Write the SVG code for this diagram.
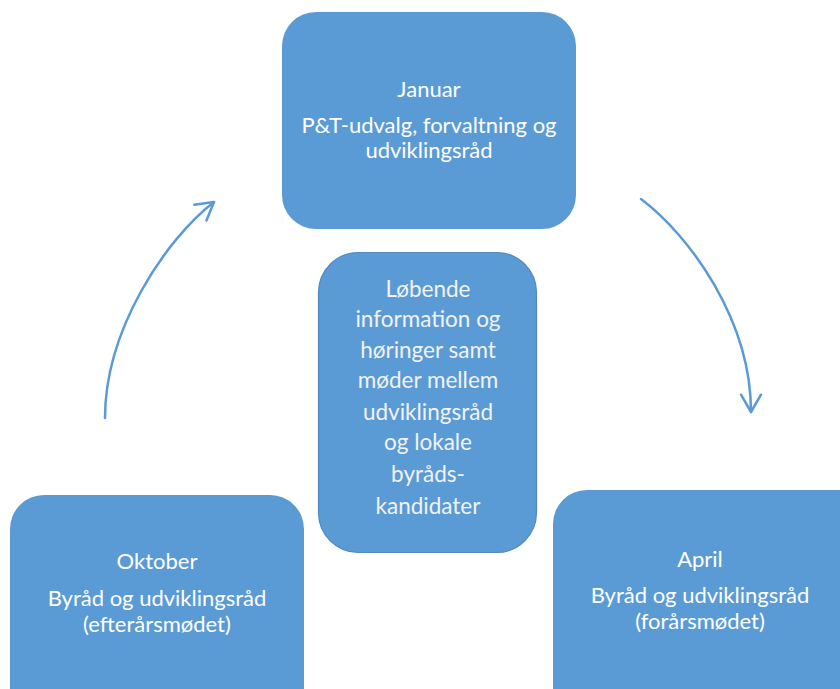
<svg xmlns="http://www.w3.org/2000/svg" width="840" height="689" viewBox="0 0 840 689">
<style>
.box{fill:#5B9BD5;}
.t{font-family:Lato,"Liberation Sans",sans-serif;font-size:22px;fill:#FFFFFF;text-anchor:middle;}
.c{font-family:Lato,"Liberation Sans",sans-serif;font-size:22.5px;fill:#F2F2F2;text-anchor:middle;}
.arc{fill:none;stroke:#5B9BD5;stroke-width:2.5;stroke-linecap:round;}
</style>
<defs>
<marker id="ah" markerUnits="userSpaceOnUse" viewBox="-2 -2 22 24" refX="17.3" refY="10" markerWidth="22" markerHeight="24" orient="auto">
<path d="M0,0 L17.3,10 L0,20" fill="none" stroke="#5B9BD5" stroke-width="2.5" stroke-linecap="round" stroke-linejoin="round"/>
</marker>
</defs>
<rect width="840" height="689" fill="#FFFFFF"/>
<g id="connectors">
<path class="arc" d="M641,199 C690,236 751,320 751,412" marker-end="url(#ah)"/>
<path class="arc" d="M105,418 C105,330 165,240 214,202" marker-end="url(#ah)"/>
</g>
<g id="node-januar">
<rect class="box" x="282" y="12" width="294" height="217" rx="34" ry="34"/>
<text class="t" x="429" y="97">Januar</text>
<text class="t" x="429" y="133">P&amp;T-udvalg, forvaltning og</text>
<text class="t" x="429" y="158">udviklingsråd</text>
</g>
<g id="node-center">
<rect class="box" x="318.5" y="252.5" width="218" height="300" rx="40" ry="40" stroke="#4E8AC2" stroke-width="1.2"/>
<text class="c" x="428" y="297">Løbende</text>
<text class="c" x="428" y="327">information og</text>
<text class="c" x="428" y="358">høringer samt</text>
<text class="c" x="428" y="388">møder mellem</text>
<text class="c" x="428" y="420">udviklingsråd</text>
<text class="c" x="428" y="450">og lokale</text>
<text class="c" x="428" y="482">byråds-</text>
<text class="c" x="428" y="514">kandidater</text>
</g>
<g id="node-oktober">
<rect class="box" x="10" y="495" width="294" height="230" rx="34" ry="34"/>
<text class="t" x="157" y="569">Oktober</text>
<text class="t" x="157" y="606">Byråd og udviklingsråd</text>
<text class="t" x="157" y="632">(efterårsmødet)</text>
</g>
<g id="node-april">
<rect class="box" x="553" y="490" width="320" height="235" rx="34" ry="34"/>
<text class="t" x="700" y="567">April</text>
<text class="t" x="700" y="603">Byråd og udviklingsråd</text>
<text class="t" x="700" y="629">(forårsmødet)</text>
</g>
</svg>
